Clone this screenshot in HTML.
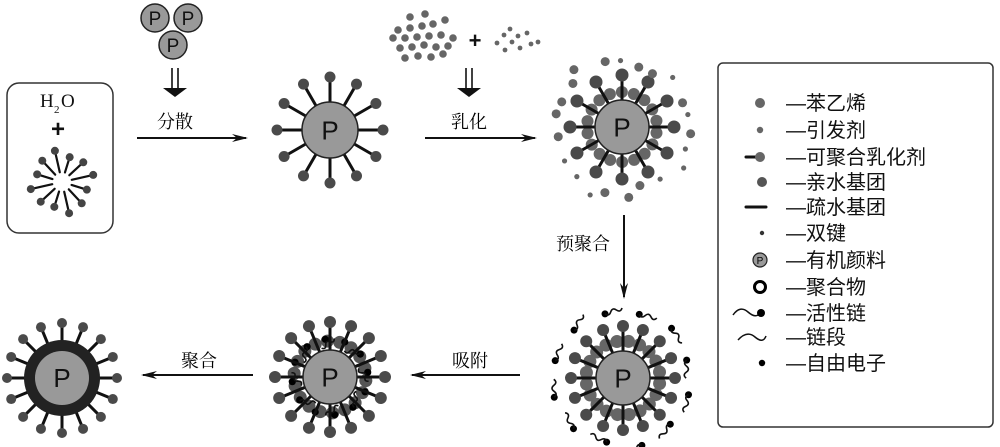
<!DOCTYPE html>
<html><head><meta charset="utf-8"><style>
html,body{margin:0;padding:0;background:#fff;}
svg{display:block;}
text{font-family:"Liberation Sans","Noto Sans CJK SC",sans-serif;}
text.sr{font-family:"Liberation Serif",serif;}
.cn{font-family:"Liberation Serif","Noto Serif CJK SC",serif;font-size:18px;}
</style></head><body>
<svg id="s" width="1000" height="447" viewBox="0 0 1000 447" xmlns="http://www.w3.org/2000/svg">
<defs>
<marker id="ah" markerWidth="16" markerHeight="10" refX="14" refY="5" orient="auto" markerUnits="userSpaceOnUse">
<path d="M0,1 L16,5 L0,9 L5,5 Z" fill="#111"/></marker>
</defs>
<rect x="7" y="83" width="106" height="150" rx="12" fill="none" stroke="#333" stroke-width="1.5"/>
<text class="sr" x="40" y="107" font-size="19" fill="#111">H</text>
<text class="sr" x="54" y="113" font-size="11" fill="#111">2</text>
<text class="sr" x="61" y="107" font-size="19" fill="#111">O</text>
<text x="51" y="137" font-size="24" font-weight="bold" fill="#111">+</text>
<rect x="718" y="63" width="275" height="364" rx="5" fill="none" stroke="#333" stroke-width="1.5"/>
<line x1="137" y1="138" x2="246" y2="138" stroke="#111" stroke-width="2" marker-end="url(#ah)"/>
<line x1="425" y1="138" x2="535" y2="138" stroke="#111" stroke-width="2" marker-end="url(#ah)"/>
<line x1="624" y1="215" x2="624" y2="297" stroke="#111" stroke-width="2" marker-end="url(#ah)"/>
<line x1="520" y1="375" x2="412" y2="375" stroke="#111" stroke-width="2" marker-end="url(#ah)"/>
<line x1="253" y1="375" x2="143" y2="375" stroke="#111" stroke-width="2" marker-end="url(#ah)"/>
<g stroke="#111" stroke-width="1.6"><line x1="172" y1="68" x2="172" y2="90"/><line x1="178" y1="68" x2="178" y2="90"/>
<line x1="466" y1="68" x2="466" y2="90"/><line x1="472" y1="68" x2="472" y2="90"/></g>
<path d="M163,88 L187,88 L175,97Z" fill="#111"/>
<path d="M457,88 L481,88 L469,97Z" fill="#111"/>
<text x="175" y="128" class="cn" text-anchor="middle">分散</text>
<text x="469" y="128" class="cn" text-anchor="middle">乳化</text>
<text x="583" y="250" class="cn" text-anchor="middle">预聚合</text>
<text x="470" y="367" class="cn" text-anchor="middle">吸附</text>
<text x="199" y="367" class="cn" text-anchor="middle">聚合</text>
<text x="475" y="48" font-size="22" font-weight="bold" fill="#111" text-anchor="middle">+</text>
<g id="dyn"></g>
</svg>
<script>
const g=document.getElementById('dyn');let h='';
const C=(x,y,r,f,s,sw)=>{h+=`<circle cx="${x}" cy="${y}" r="${r}" fill="${f}" ${s?`stroke="${s}" stroke-width="${sw||1.2}"`:''}/>`;};
const L=(a,b,c,d,w,col)=>{h+=`<line x1="${a}" y1="${b}" x2="${c}" y2="${d}" stroke="${col||'#111'}" stroke-width="${w}" stroke-linecap="round"/>`;};
const P=(x,y,r,fs)=>{C(x,y,r,'#999','#222',1.5);h+=`<text x="${x}" y="${y+fs*0.36}" font-size="${fs}" text-anchor="middle" fill="#111">P</text>`;};
let seed=7;const R=()=>{seed=(seed*9301+49297)%233280;return seed/233280;};
P(155,18,14,19);P(188,18,14,19);P(173,45,14,19);
for(let i=0;i<12;i++){const a=i/12*2*Math.PI+0.3;const r1=10,r2=26+(i%3)*3;const cx=62,cy=182;
L(cx+r1*Math.cos(a),cy+r1*Math.sin(a),cx+r2*Math.cos(a),cy+r2*Math.sin(a),2.2);C(cx+r2*Math.cos(a),cy+r2*Math.sin(a),4,'#444');}
function spokes(x,y,n,r0,r1,dr,w,off){for(let i=0;i<n;i++){const a=i/n*2*Math.PI+(off||0);L(x+r0*Math.cos(a),y+r0*Math.sin(a),x+r1*Math.cos(a),y+r1*Math.sin(a),w);C(x+r1*Math.cos(a),y+r1*Math.sin(a),dr,'#4a4a4a');}}
function ring(x,y,n,r,dr,col,off){for(let i=0;i<n;i++){const a=i/n*2*Math.PI+(off||0);C(x+r*Math.cos(a),y+r*Math.sin(a),dr,col);}}
spokes(330,130,12,25,53,5.5,3);P(330,130,28,26);
const big=[[410,17],[398,30],[410,28],[422,26],[433,24],[445,20],[393,38],[405,38],[417,37],[429,36],[441,35],[453,38],[400,48],[412,47],[424,45],[436,47],[448,46],[405,58],[418,56],[431,57],[443,54],[425,14]];
big.forEach(p=>C(p[0],p[1],3.8,'#666'));
[[497,43],[504,35],[510,29],[512,42],[518,36],[520,48],[527,33],[531,44],[538,42],[505,50]].forEach(p=>C(p[0],p[1],2.4,'#666'));
ring(622,127,18,35,6,'#666',0.17);spokes(622,127,12,25,52,6.5,3);P(622,127,27,26);
for(let i=0;i<22;i++){const a=i/22*2*Math.PI+R()*0.2,r=60+R()*16;C(622+r*Math.cos(a),127+r*Math.sin(a),R()<0.5?4.5:2.6,'#666');}
ring(623,378,20,37,6.5,'#666',0.15);spokes(623,378,16,25,52,6,3);P(623,378,27,26);
function wig(x,y,a,col,len){len=len||18;const dx=Math.cos(a),dy=Math.sin(a),px=-dy,py=dx;const s=len/3;let d=`M${x},${y}`;for(let k=1;k<=3;k++){const o=(k%2?4:-4);d+=` Q${x+dx*(k*s-s/2)+px*o},${y+dy*(k*s-s/2)+py*o} ${x+dx*k*s},${y+dy*k*s}`;}h+=`<path d="${d}" fill="none" stroke="${col||'#111'}" stroke-width="1.6"/>`;}
for(let i=0;i<12;i++){const a=i/12*2*Math.PI+0.25,r=64+R()*8;const x=623+r*Math.cos(a),y=378+r*Math.sin(a);C(x,y,3.5,'#000');wig(x,y,a+1.3+R()*0.6,'#111',18);}
ring(330,377,18,36,6.5,'#555',0.1);
for(let i=0;i<12;i++){const a=i/12*2*Math.PI+0.4;C(330+38*Math.cos(a),377+38*Math.sin(a),3.6,'#000');}
for(let i=0;i<8;i++){const a=i/8*2*Math.PI+0.5;wig(330+30*Math.cos(a),377+30*Math.sin(a),a+1.2,'#111',16);}
spokes(330,377,16,25,55,6,3);P(330,377,27,26);
spokes(62,378,16,30,55,5,3);C(62,378,38,'#222');h+=`<circle cx="62" cy="378" r="27" fill="#999"/><text x="62" y="387" font-size="26" text-anchor="middle" fill="#111">P</text>`;
const items=['苯乙烯','引发剂','可聚合乳化剂','亲水基团','疏水基团','双键','有机颜料','聚合物','活性链','链段','自由电子'];
const ys=[103,130,157,182,207,233,260,287,313,337,363];
const ix=760;
C(ix,103,5,'#666');C(ix,130,3.2,'#666');L(ix-14,157,ix-2,157,3);C(ix,157,5,'#666');C(ix+2,182,5,'#555');L(ix-14,207,ix+6,207,3);C(ix+2,233,2.2,'#333');
C(ix,260,7,'#999','#222',1.2);h+=`<text x="${ix}" y="264" font-size="10" text-anchor="middle">P</text>`;
C(ix,287,5.5,'none','#000',3);
h+=`<path d="M${ix-27},315 Q${ix-20},305 ${ix-12},312 T${ix},313" fill="none" stroke="#111" stroke-width="1.5"/>`;C(ix+1,313,4,'#000');
h+=`<path d="M${ix-22},340 Q${ix-13},330 ${ix-5},337 T${ix+6},336" fill="none" stroke="#111" stroke-width="1.5"/>`;
C(ix+2,363,3.2,'#000');
items.forEach((t,i)=>{h+=`<text x="786" y="${ys[i]+7}" font-size="20" fill="#111">—${t}</text>`;});
g.innerHTML=h;
</script>
</body></html>
